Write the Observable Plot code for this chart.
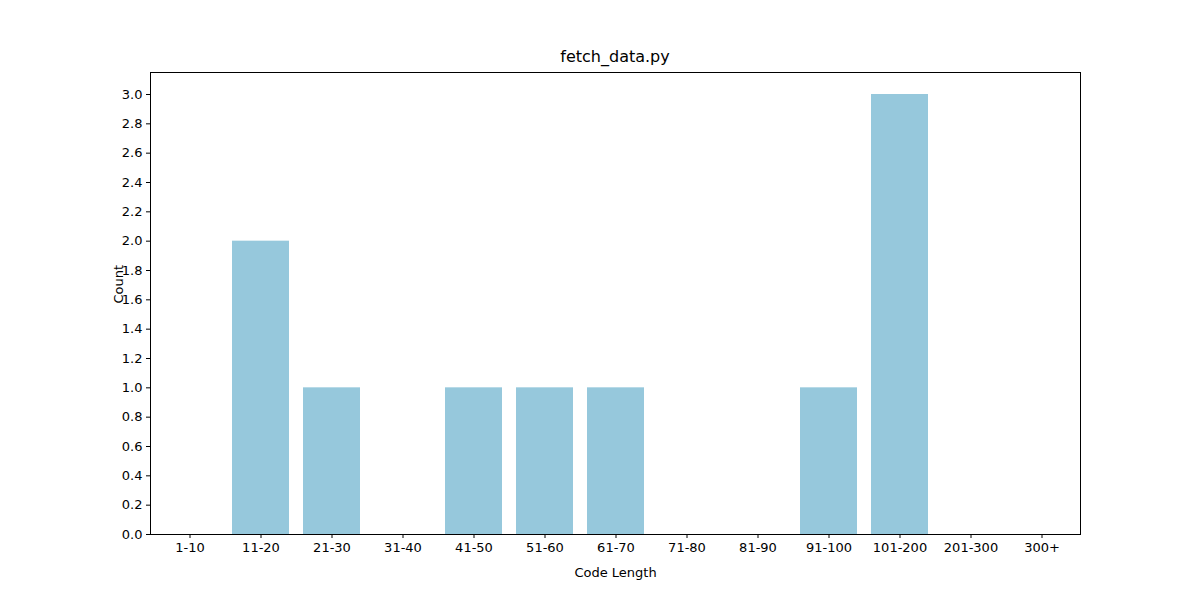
<!DOCTYPE html>
<html>
<head>
<meta charset="utf-8">
<script src="https://cdn.jsdelivr.net/npm/d3@7"></script>
<script src="https://cdn.jsdelivr.net/npm/@observablehq/plot@0.6"></script>
<style>
  body { margin: 0; background: #fff; font-family: "DejaVu Sans", sans-serif; }
  #wrap { position: relative; width: 1200px; height: 600px; }
  #title { position: absolute; top: 47px; left: 150px; width: 930px; text-align: center; font-size: 16px; }
  #chart { position: absolute; top: 0; left: 0; }
</style>
</head>
<body>
<div id="wrap">
  <div id="chart"></div>
  <div id="title">fetch_data.py</div>
</div>
<script>
const categories = ["1-10", "11-20", "21-30", "31-40", "41-50", "51-60", "61-70", "71-80", "81-90", "91-100", "101-200", "201-300", "300+"];
const counts = [0, 2, 1, 0, 1, 1, 1, 0, 0, 1, 3, 0, 0];

const data = categories.map((c, i) => ({ range: c, count: counts[i] }));

const chart = Plot.plot({
  width: 1200,
  height: 600,
  marginLeft: 150,
  marginRight: 120,
  marginTop: 72,
  marginBottom: 66,
  style: { fontFamily: "DejaVu Sans", fontSize: "13px", color: "#000" },
  x: { domain: categories, paddingInner: 0.2, paddingOuter: 0.1, label: null },
  y: { domain: [0, 3.15], ticks: [0, 1, 2, 3], label: null },
  marks: [
    Plot.barY(data, { x: "range", y: "count", fill: "#96c8dc" }),
    Plot.frame({ stroke: "#000" }),
    Plot.axisX({ tickSize: 4, tickPadding: 4, fontSize: 13 }),
    Plot.axisY({ tickSize: 4, tickPadding: 4, fontSize: 13 }),
    Plot.text(["Code Length"], { frameAnchor: "bottom", dy: 42, fontSize: 13 }),
    Plot.text(["Count"], { frameAnchor: "left", dx: -32, rotate: -90, fontSize: 13 })
  ]
});
document.getElementById("chart").appendChild(chart);
</script>
</body>
</html>
